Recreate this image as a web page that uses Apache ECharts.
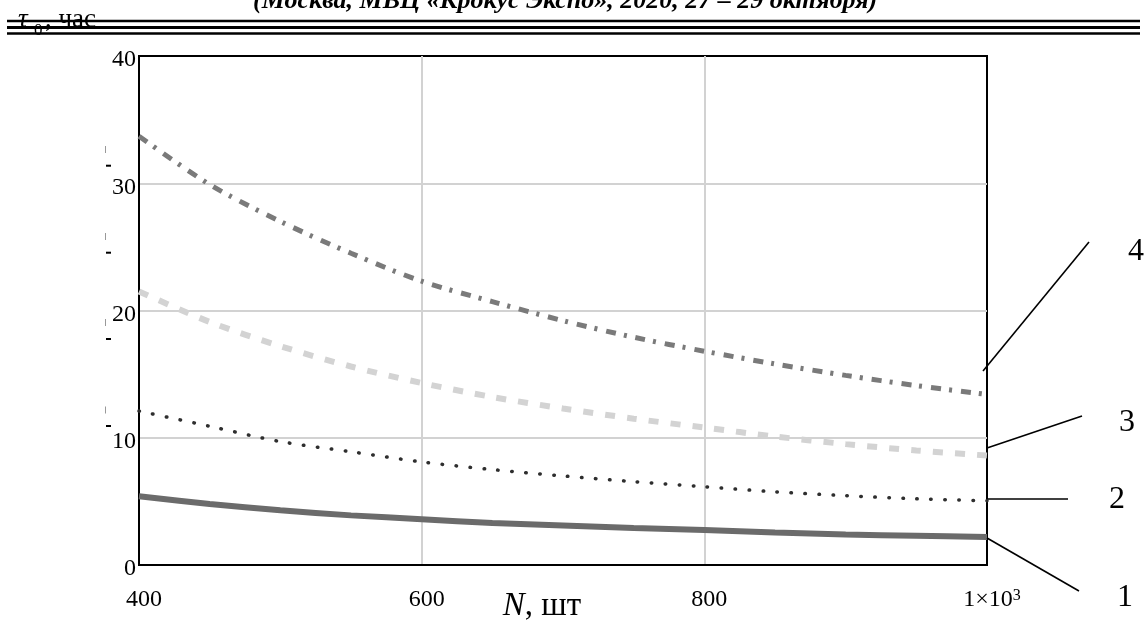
<!DOCTYPE html>
<html>
<head>
<meta charset="utf-8">
<script src="https://cdn.jsdelivr.net/npm/echarts@6/dist/echarts.min.js"></script>
<style>
html,body{margin:0;padding:0;background:#fff;}
#chart{width:1146px;height:625px;}
</style>
</head>
<body>
<div id="chart"></div>
<script>
// ---- data ----
var N = [400, 450, 500, 550, 600, 650, 700, 750, 800, 850, 900, 950, 1000];
var curve1 = [5.4, 4.8, 4.3, 3.9, 3.6, 3.3, 3.1, 2.9, 2.75, 2.55, 2.4, 2.3, 2.2];
var curve2 = [12.1, 10.9, 9.7, 8.9, 8.1, 7.5, 7.0, 6.55, 6.15, 5.75, 5.45, 5.2, 5.05];
var curve3 = [21.5, 19.1, 17.2, 15.6, 14.3, 13.2, 12.3, 11.5, 10.8, 10.1, 9.5, 9.0, 8.6];
var curve4 = [33.7, 29.9, 27.0, 24.5, 22.3, 20.7, 19.2, 17.9, 16.8, 15.8, 14.9, 14.1, 13.4];
var curveLabels = ['1', '2', '3', '4'];
var xTicks = [400, 600, 800, 1000];
var yTicks = [0, 10, 20, 30, 40];
var headerText = '(Москва, МВЦ «Крокус Экспо», 2020, 27 – 29 октября)';

function pairs(ys) { return N.map(function (n, i) { return [n, ys[i]]; }); }

var FONT = '"Liberation Serif", "Times New Roman", serif';
var chart = echarts.init(document.getElementById('chart'), null, {renderer: 'canvas'});

var graphics = [];
// header text (cut off at the top)
graphics.push({type: 'text', z: 100, style: {text: headerText, x: 253, y: 1, font: 'bold italic 26px ' + FONT, fill: '#000', align: 'left', verticalAlign: 'middle'}});
// tau label
graphics.push({type: 'text', z: 100, style: {text: 'τ', x: 18, y: 20, font: 'italic 27px ' + FONT, fill: '#000', align: 'left', verticalAlign: 'middle'}});
graphics.push({type: 'text', z: 100, style: {text: '0', x: 34, y: 31, font: '17px ' + FONT, fill: '#000', align: 'left', verticalAlign: 'middle'}});
graphics.push({type: 'text', z: 100, style: {text: ', час', x: 45, y: 20, font: '27px ' + FONT, fill: '#000', align: 'left', verticalAlign: 'middle'}});
// triple rule
[[21, 2.5], [27.5, 3], [33.5, 2.5]].forEach(function (r) {
  graphics.push({type: 'line', z: 101, shape: {x1: 7, y1: r[0], x2: 1140, y2: r[0]}, style: {stroke: '#000', lineWidth: r[1]}});
});
// small scan marks on the left
[165.7, 252.7, 339, 426].forEach(function (y) {
  graphics.push({type: 'line', shape: {x1: 106, y1: y, x2: 111, y2: y}, style: {stroke: '#000', lineWidth: 2}});
});
[149.5, 236.5, 322.5, 410].forEach(function (y) {
  graphics.push({type: 'line', shape: {x1: 105.5, y1: y - 3.5, x2: 105.5, y2: y + 3.5}, style: {stroke: '#999', lineWidth: 1}});
});
// leader lines
[[983, 371, 1089, 242], [987, 448, 1082, 416], [988, 499, 1068, 499], [987, 538, 1079, 591]].forEach(function (l) {
  graphics.push({type: 'line', z: 100, shape: {x1: l[0], y1: l[1], x2: l[2], y2: l[3]}, style: {stroke: '#000', lineWidth: 1.6}});
});
// curve numbers
[[1125, 598], [1117, 500], [1127, 423], [1136, 252]].forEach(function (p, i) {
  graphics.push({type: 'text', z: 100, style: {text: curveLabels[i], x: p[0], y: p[1], font: '32px ' + FONT, fill: '#000', align: 'center', verticalAlign: 'middle'}});
});
// axis title
graphics.push({type: 'text', z: 100, style: {
  text: '{n|N}{r|, шт}', x: 542, y: 606, align: 'center', verticalAlign: 'middle',
  rich: {n: {font: 'italic 33px ' + FONT, fill: '#000'}, r: {font: '33px ' + FONT, fill: '#000'}}
}});

var option = {
  animation: false,
  backgroundColor: '#fff',
  grid: {left: 139, right: 159, top: 56, bottom: 60, show: true, borderColor: '#000', borderWidth: 2, backgroundColor: 'transparent'},
  xAxis: {
    type: 'value', min: xTicks[0], max: xTicks[xTicks.length - 1], interval: 200,
    axisLine: {show: true, lineStyle: {color: '#000', width: 2}},
    axisTick: {show: false},
    splitLine: {show: true, showMinLine: false, showMaxLine: false, lineStyle: {color: '#d2d2d2', width: 2}},
    axisLabel: {
      margin: 23, padding: [0, 0, 0, 10], color: '#000',
      formatter: function (v) { return v === 1000 ? '{a|1×10}{s|3}' : '{a|' + v + '}'; },
      rich: {
        a: {fontFamily: FONT, fontSize: 24, color: '#000'},
        s: {fontFamily: FONT, fontSize: 16, color: '#000', verticalAlign: 'top', padding: [0, 0, 6, 0]}
      }
    }
  },
  yAxis: {
    type: 'value', min: yTicks[0], max: yTicks[yTicks.length - 1], interval: 10,
    axisLine: {show: true, lineStyle: {color: '#000', width: 2}},
    axisTick: {show: false},
    splitLine: {show: true, showMinLine: false, showMaxLine: false, lineStyle: {color: '#d2d2d2', width: 2}},
    axisLabel: {margin: 3, verticalAlign: 'top', lineHeight: 8, fontFamily: FONT, fontSize: 24, color: '#000'}
  },
  series: [
    {name: '1', type: 'line', data: pairs(curve1), smooth: 0.3, symbol: 'none', lineStyle: {color: '#6b6b6b', width: 6}},
    {name: '2', type: 'line', data: pairs(curve2), smooth: 0.3, symbol: 'none', lineStyle: {color: '#2e2e2e', width: 3.5, type: [0.5, 13.5], cap: 'round'}},
    {name: '3', type: 'line', data: pairs(curve3), smooth: 0.3, symbol: 'none', lineStyle: {color: '#d3d3d3', width: 6, type: [10, 12]}},
    {name: '4', type: 'line', data: pairs(curve4), smooth: 0.3, symbol: 'none', lineStyle: {color: '#7a7a7a', width: 5, type: [10, 8, 3, 9]}}
  ],
  graphic: graphics
};
chart.setOption(option);
</script>
</body>
</html>
